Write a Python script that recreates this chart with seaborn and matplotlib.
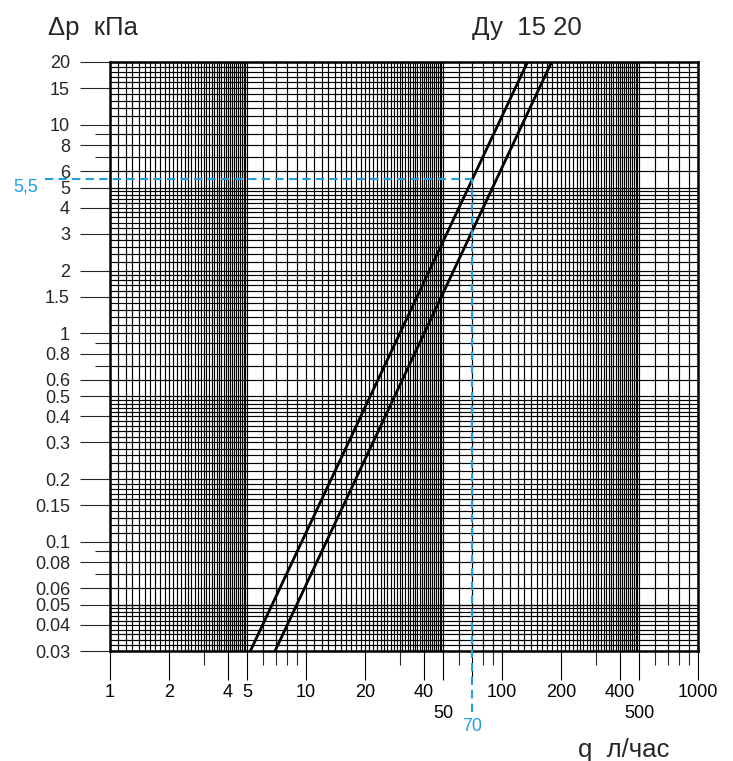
import numpy as np
import pandas as pd
import matplotlib
matplotlib.use("Agg")
import matplotlib.pyplot as plt
import seaborn as sns

# ---- data ----
curve_names = ["Ду 15", "Ду 15", "Ду 20", "Ду 20"]
q_values = [5.2, 135.0, 6.95, 179.0]        # л/час
dp_values = [0.03, 20.0, 0.03, 20.0]        # кПа

x_ticks = [1, 2, 4, 5, 10, 20, 40, 50, 70, 100, 200, 400, 500, 1000]
x_tick_labels = ["1", "2", "4", "5", "10", "20", "40", "50", "70", "100", "200", "400", "500", "1000"]
x_low_ticks = [50, 500]
x_short_ticks = [3, 6, 7, 8, 9, 30, 60, 80, 90, 300, 600, 700, 800, 900]

y_ticks = [0.03, 0.04, 0.05, 0.06, 0.08, 0.1, 0.15, 0.2, 0.3, 0.4, 0.5, 0.6, 0.8,
           1, 1.5, 2, 3, 4, 5, 6, 8, 10, 15, 20]
y_tick_labels = ["0.03", "0.04", "0.05", "0.06", "0.08", "0.1", "0.15", "0.2", "0.3", "0.4",
                 "0.5", "0.6", "0.8", "1", "1.5", "2", "3", "4", "5", "6", "8", "10", "15", "20"]
y_short_ticks = [0.07, 0.09, 0.7, 0.9, 7, 9]

q_mark = 70
dp_mark = 5.5
dp_mark_label = "5,5"

BLUE = "#1e9fe3"

# ---- figure ----
sns.set_style("white")
plt.rcParams["font.family"] = ["Liberation Sans", "DejaVu Sans"]
tick_font = ["Liberation Sans Narrow", "Liberation Sans", "DejaVu Sans"]

W, H = 733, 761
PT = 72 / 100  # points per pixel
fig = plt.figure(figsize=(W / 100, H / 100), dpi=100)
L, R, T, B = 110, 698, 62, 651
ax = fig.add_axes([L / W, 1 - B / H, (R - L) / W, (B - T) / H])
ax.set_xscale("log")
ax.set_yscale("log")
ax.set_xlim(1, 1000)
ax.set_ylim(0.03, 20)

# graph-paper grid
xg = []
for d in [1, 10, 100]:
    xg += list(np.arange(1.0, 5.0, 0.1) * d) + list(np.arange(5.0, 10.0, 1.0) * d)
xg.append(1000)
yg = list(np.arange(0.030, 0.050, 0.002)) + list(np.arange(0.05, 0.1, 0.01))
for d in [0.1, 1]:
    yg += (list(np.arange(1.0, 2.0, 0.1) * d) + list(np.arange(2.0, 3.0, 0.2) * d)
           + list(np.arange(3.0, 5.0, 0.2) * d) + list(np.arange(5.0, 10.0, 1.0) * d))
yg += list(np.arange(10.0, 20.5, 1.0))
ax.vlines(xg, 0, 1, transform=ax.get_xaxis_transform(), colors="black", linewidth=0.85, zorder=1)
ax.hlines(yg, 0, 1, transform=ax.get_yaxis_transform(), colors="black", linewidth=0.85, zorder=1)

df = pd.DataFrame({"curve": curve_names, "q": q_values, "dp": dp_values})
sns.lineplot(data=df, x="q", y="dp", hue="curve", palette=["black", "black"], legend=False,
             ax=ax, linewidth=2.0, estimator=None, sort=False, zorder=3)
ax.set_xlim(1, 1000)
ax.set_ylim(0.03, 20)
ax.set_xlabel("")
ax.set_ylabel("")

for s in ax.spines.values():
    s.set_linewidth(1.8)
    s.set_color("black")
    s.set_zorder(4)

# ticks
XLEN = 29 * PT
ax.set_xticks(x_ticks)
ax.set_xticklabels(x_tick_labels)
ax.set_xticks(x_short_ticks, minor=True)
ax.set_yticks(y_ticks)
ax.set_yticklabels(y_tick_labels)
ax.set_yticks(y_short_ticks, minor=True)
ax.xaxis.set_minor_formatter(matplotlib.ticker.NullFormatter())
ax.yaxis.set_minor_formatter(matplotlib.ticker.NullFormatter())
ax.tick_params(axis="x", which="major", direction="out", length=XLEN, width=0.8, pad=4 * PT,
               labelsize=13, colors="black", bottom=True)
ax.tick_params(axis="x", which="minor", direction="out", length=14 * PT, width=0.8, bottom=True)
ax.tick_params(axis="y", which="major", direction="out", length=30 * PT, width=0.8, pad=10 * PT,
               labelsize=13, left=True)
ax.tick_params(axis="y", which="minor", direction="out", length=15 * PT, width=0.8, left=True)
for lab in ax.get_xticklabels() + ax.get_yticklabels():
    lab.set_family(tick_font)

for t, v in zip(ax.xaxis.get_major_ticks(), x_ticks):
    if v in x_low_ticks:
        t.tick1line.set_markersize(47 * PT)
        t.set_pad(54 * PT - XLEN)
        t.label1.set_family(tick_font)
    elif v == q_mark:
        t.tick1line.set_markersize(0)
        t.set_pad(67 * PT - XLEN)
        t.label1.set_color(BLUE)
        t.label1.set_family(tick_font)

# blue reading lines
tr = ax.transAxes.inverted()
fx = tr.transform(ax.transData.transform((q_mark, dp_mark)))
ax.axvline(q_mark, ymin=-61 / (B - T), ymax=fx[1], color=BLUE, lw=1.5,
           linestyle=(0, (4, 2.5)), clip_on=False, zorder=5)
ax.axhline(dp_mark, xmin=-(L - 45) / (R - L), xmax=fx[0], color=BLUE, lw=1.5,
           linestyle=(0, (4, 2.5)), clip_on=False, zorder=5)
ax.text(-(L - 38) / (R - L), dp_mark, dp_mark_label, transform=ax.get_yaxis_transform(),
        ha="right", va="top", color=BLUE, fontsize=13, family=tick_font)

# titles
fig.text(48 / W, 1 - 35 / H, "Δp  кПа", ha="left", va="baseline", fontsize=18.5)
fig.text(472 / W, 1 - 35 / H, "Ду  15 20", ha="left", va="baseline", fontsize=18.5)
fig.text(578 / W, 1 - 757 / H, "q  л/час", ha="left", va="baseline", fontsize=18.5)

fig.savefig("out.png", dpi=100)
